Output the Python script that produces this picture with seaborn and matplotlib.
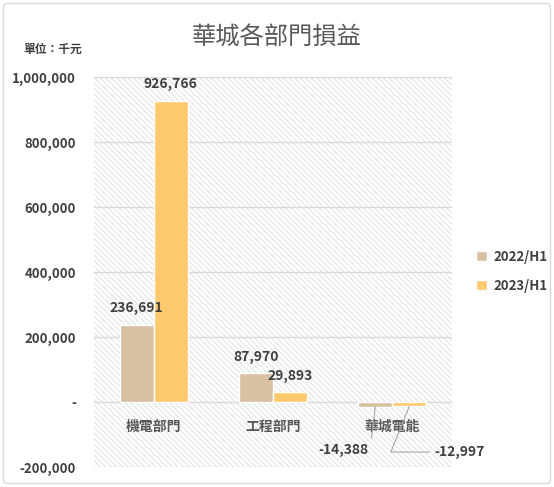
import matplotlib
matplotlib.use("Agg")
import matplotlib.pyplot as plt
import seaborn as sns
import pandas as pd
from matplotlib.patches import Rectangle, FancyBboxPatch
from matplotlib.ticker import FuncFormatter

# data (千元)
departments = ["機電部門", "工程部門", "華城電能"]
periods = ["2022/H1", "2023/H1"]
values_2022 = [236691, 87970, -14388]
values_2023 = [926766, 29893, -12997]
bar_colors = ["#D9C0A3", "#FFCA6E"]
y_ticks = [-200000, 0, 200000, 400000, 600000, 800000, 1000000]

df = pd.DataFrame({
    "dept": departments * 2,
    "period": [periods[0]] * 3 + [periods[1]] * 3,
    "value": values_2022 + values_2023,
})

sns.set_theme(style="white")
plt.rcParams["font.family"] = ["Noto Sans CJK TC", "DejaVu Sans"]
plt.rcParams["hatch.linewidth"] = 0.6
W = "bold"

fig = plt.figure(figsize=(5.54, 4.87), dpi=100)
ax = fig.add_axes([94 / 554, 1 - 467 / 487, (452 - 94) / 554, (467 - 77) / 487])

# hatched plot area
ax.add_patch(Rectangle((0, 0), 1, 1, transform=ax.transAxes, facecolor="white",
                       edgecolor="#DCDCDC", hatch="\\" * 6, lw=0, zorder=0))

sns.barplot(data=df, x="dept", y="value", hue="period", palette=bar_colors,
            width=0.57, saturation=1, ax=ax, zorder=2)

ax.set_ylim(-200000, 1000000)
ax.set_yticks(y_ticks)
ax.yaxis.set_major_formatter(FuncFormatter(lambda v, p: "-" if v == 0 else f"{int(v):,}"))
ax.tick_params(axis="y", length=0, pad=13, labelsize=9.5, labelcolor="#404040")
for t in ax.get_yticklabels():
    t.set_fontweight(W)
ax.set_xticks([])
ax.set_xlabel("")
ax.set_ylabel("")
ax.grid(axis="y", color="#D9D9D9", lw=1)
ax.set_axisbelow(True)
for s in ax.spines.values():
    s.set_visible(False)

# category labels under the zero line
for i, d in enumerate(departments):
    ax.annotate(d, (i, 0), xytext=(0, -18), textcoords="offset points",
                ha="center", va="center", fontsize=10, color="#595959", weight=W)

# value labels
half = 0.57 / 4
for i in range(3):
    for j, vals in enumerate([values_2022, values_2023]):
        v = vals[i]
        x = i - half if j == 0 else i + half
        if v > 0:
            ax.annotate(f"{v:,}", (x, v), xytext=(0, 12), textcoords="offset points",
                        ha="center", va="center", fontsize=10, color="#404040", weight=W)

ax.annotate(f"{values_2022[2]:,}", (2 - half, values_2022[2]), xytext=(-23, -31),
            textcoords="offset points", ha="center", va="center", fontsize=10, color="#404040",
            weight=W,
            arrowprops=dict(arrowstyle="-", color="#A6A6A6", lw=0.8, shrinkA=1, shrinkB=0,
                            relpos=(1, 0.5), connectionstyle="angle,angleA=0,angleB=83,rad=0"))
ax.annotate(f"{values_2023[2]:,}", (2 + half, values_2023[2]), xytext=(36, -33),
            textcoords="offset points", ha="center", va="center", fontsize=10, color="#404040",
            weight=W,
            arrowprops=dict(arrowstyle="-", color="#A6A6A6", lw=0.8, shrinkA=1, shrinkB=0,
                            relpos=(0, 0.5), connectionstyle="angle,angleA=0,angleB=68,rad=0"))

# legend on the right
handles, labels = ax.get_legend_handles_labels()
ax.get_legend().remove()
fig.legend(handles, labels, loc="center left", bbox_to_anchor=(0.838, 0.443), frameon=False,
           handlelength=0.8, handleheight=0.8, handletextpad=0.5,
           labelspacing=1.1, labelcolor="#404040", prop={"size": 9.5, "weight": W})

fig.text(0.5, 1 - 38 / 487, "華城各部門損益", ha="center", va="center", fontsize=17.5, color="#595959")
fig.text(23 / 554, 1 - 49 / 487, "單位：千元", ha="left", va="center", fontsize=8.5,
         color="#404040", weight="bold")

# outer border
fig.patches.append(FancyBboxPatch((3.5 / 554, 3.5 / 487), 547 / 554, 480 / 487,
                                  boxstyle="round,pad=0,rounding_size=0.008",
                                  transform=fig.transFigure, facecolor="none",
                                  edgecolor="#D9D9D9", lw=1))

fig.savefig("out.png", dpi=100)
